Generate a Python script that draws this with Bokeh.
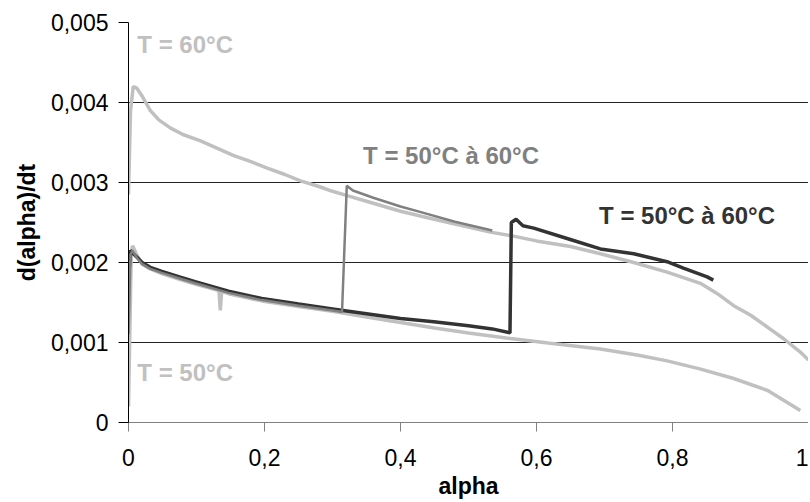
from bokeh.plotting import figure
from bokeh.models import Range1d, FixedTicker, Label
from bokeh.embed import file_html
from bokeh.resources import INLINE

# ---- data ----
alpha_60 = [0.0, 0.003, 0.007, 0.012, 0.02, 0.032, 0.045, 0.062, 0.08, 0.106, 0.13, 0.154,
            0.18, 0.204, 0.23, 0.253, 0.28, 0.30, 0.324, 0.36, 0.40, 0.44, 0.48, 0.532,
            0.566, 0.60, 0.65, 0.694, 0.743, 0.792, 0.841, 0.866, 0.89, 0.915, 0.94,
            0.963, 0.988, 1.0]
rate_60 = [0.00285, 0.0039, 0.0042, 0.00418, 0.00408, 0.0039, 0.00378, 0.00368, 0.0036, 0.00352,
           0.00343, 0.00334, 0.00326, 0.00318, 0.0031, 0.00302, 0.00295, 0.00289, 0.00283,
           0.00274, 0.00264, 0.00256, 0.00248, 0.00238, 0.00233, 0.00227, 0.0022, 0.00211,
           0.002, 0.00188, 0.00174, 0.00161, 0.00146, 0.00134, 0.00119, 0.00105, 0.00088,
           0.00078]

alpha_50 = [0.0, 0.004, 0.006, 0.012, 0.02, 0.032, 0.049, 0.075, 0.098, 0.133, 0.135, 0.137,
            0.147, 0.196, 0.25, 0.30, 0.35, 0.40, 0.45, 0.50, 0.562, 0.62, 0.694, 0.75,
            0.792, 0.84, 0.89, 0.94, 0.988]
rate_50 = [0.0002, 0.0021, 0.00221, 0.0021, 0.00198, 0.00192, 0.00186, 0.00179, 0.00173,
           0.00165, 0.0014, 0.00164, 0.00161, 0.00152, 0.00145, 0.00139, 0.00132, 0.00125,
           0.00118, 0.00112, 0.00105, 0.00099, 0.00092, 0.00084, 0.00077, 0.00067, 0.00055,
           0.0004, 0.00015]

alpha_sw1 = [0.0, 0.003, 0.006, 0.012, 0.02, 0.032, 0.049, 0.075, 0.098, 0.147, 0.196, 0.25,
             0.30, 0.314, 0.321, 0.33, 0.36, 0.40, 0.43, 0.48, 0.535]
rate_sw1 = [0.0011, 0.0021, 0.00215, 0.00206, 0.00198, 0.00192, 0.00187, 0.0018, 0.00174,
            0.00162, 0.00153, 0.00146, 0.0014, 0.00138, 0.00296, 0.0029, 0.00281, 0.0027,
            0.00263, 0.00251, 0.0024]

alpha_sw2 = [0.0, 0.003, 0.006, 0.012, 0.02, 0.032, 0.049, 0.075, 0.098, 0.147, 0.196, 0.25,
             0.30, 0.35, 0.40, 0.449, 0.50, 0.535, 0.561, 0.563, 0.57, 0.58, 0.596, 0.645,
             0.694, 0.743, 0.792, 0.816, 0.851, 0.86]
rate_sw2 = [0.0018, 0.00215, 0.00212, 0.00207, 0.002, 0.00194, 0.00189, 0.00182, 0.00176,
            0.00164, 0.00155, 0.00148, 0.00142, 0.00136, 0.0013, 0.00126, 0.00121, 0.00117,
            0.00112, 0.0025, 0.00254, 0.00246, 0.00243, 0.0023, 0.00217, 0.00211, 0.00201,
            0.00193, 0.00182, 0.00178]

x_ticks = [0.0, 0.2, 0.4, 0.6, 0.8, 1.0]
x_tick_labels = ["0", "0,2", "0,4", "0,6", "0,8", "1"]
y_ticks = [0.0, 0.001, 0.002, 0.003, 0.004, 0.005]
y_tick_labels = ["0", "0,001", "0,002", "0,003", "0,004", "0,005"]

labels = ["T = 60°C", "T = 50°C", "T = 50°C à 60°C", "T = 50°C à 60°C"]
label_x = [0.013, 0.013, 0.345, 0.692]
label_y = [0.00472, 0.000625, 0.00334, 0.00259]

LIGHT = "#C0C0C0"
MID = "#808080"
DARK = "#333333"
label_colors = [LIGHT, LIGHT, MID, DARK]
FONT = "Liberation Sans"

p = figure(frame_width=680, frame_height=400, output_backend="svg", toolbar_location=None,
           x_range=Range1d(0, 1), y_range=Range1d(0, 0.005),
           min_border_left=128, min_border_right=0, min_border_top=22, min_border_bottom=80)
p.outline_line_color = None
p.background_fill_color = "white"

p.line(alpha_60, rate_60, color=LIGHT, line_width=3.5)
p.line(alpha_50, rate_50, color=LIGHT, line_width=3.5)
p.line(alpha_sw2, rate_sw2, color=DARK, line_width=3.5)
p.line(alpha_sw1, rate_sw1, color=MID, line_width=2.5)

p.xgrid.visible = False
p.ygrid.grid_line_color = "#222222"
p.ygrid.grid_line_width = 1

p.xaxis.ticker = FixedTicker(ticks=x_ticks)
p.yaxis.ticker = FixedTicker(ticks=y_ticks)
p.xaxis.major_label_overrides = dict(zip(x_ticks, x_tick_labels))
p.yaxis.major_label_overrides = dict(zip(y_ticks, y_tick_labels))

for ax in (p.xaxis[0], p.yaxis[0]):
    ax.major_label_text_font = FONT
    ax.major_label_text_font_size = "23px"
    ax.major_label_text_color = "black"
    ax.axis_label_text_font = FONT
    ax.axis_label_text_font_size = "23px"
    ax.axis_label_text_font_style = "bold"
    ax.axis_label_text_color = "black"
    ax.minor_tick_line_color = None
    ax.major_tick_in = 0
    ax.major_tick_out = 10
    ax.major_label_standoff = 10

p.xaxis.axis_label = "alpha"
p.yaxis.axis_label = "d(alpha)/dt"
p.xaxis.axis_line_color = "#808080"
p.xaxis.major_tick_line_color = "#808080"
p.xaxis.major_tick_out = 9
p.xaxis.major_label_standoff = 17
p.xaxis.axis_label_standoff = 4
p.yaxis.axis_line_color = "black"
p.yaxis.major_tick_line_color = "black"
p.yaxis.axis_label_standoff = 8

for t, lx, ly, c in zip(labels, label_x, label_y, label_colors):
    p.add_layout(Label(x=lx, y=ly, text=t, text_color=c, text_font=FONT,
                       text_font_size="24px", text_font_style="bold",
                       text_baseline="middle", text_align="left"))

open("out.html", "w").write(file_html(p, INLINE))
